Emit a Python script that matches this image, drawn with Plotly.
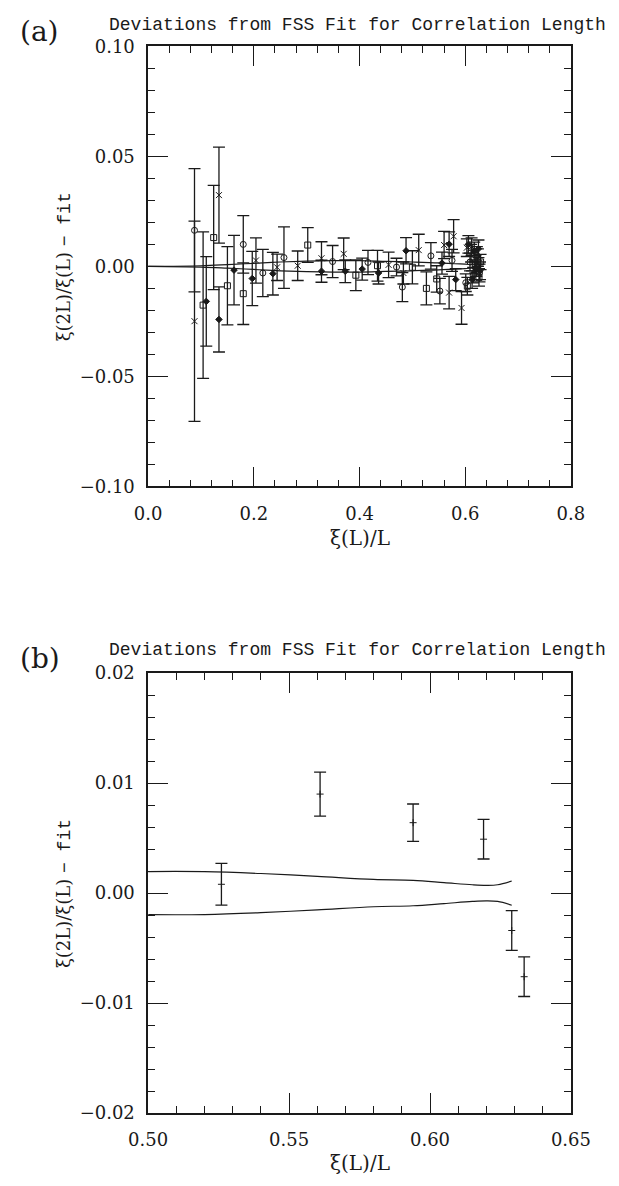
import plotly.graph_objects as go

# ---------------- Panel (a) data ----------------
cross_x   = [0.0877, 0.134, 0.204, 0.244, 0.283, 0.328, 0.370, 0.455, 0.483, 0.512, 0.560, 0.5695, 0.578, 0.593, 0.603, 0.612, 0.618, 0.624]
cross_y   = [-0.0249, 0.0324, 0.0027, -0.0004, 0.0003, 0.0037, 0.0057, 0.0007, -0.0030, 0.0074, 0.0097, -0.0119, 0.0137, -0.0189, 0.0085, 0.0090, -0.0020, 0.0040]
cross_err = [0.0455, 0.0218, 0.0103, 0.0060, 0.0067, 0.0075, 0.0072, 0.0058, 0.0050, 0.0072, 0.0062, 0.0074, 0.0076, 0.0074, 0.0040, 0.0040, 0.0040, 0.0040]

circ_x   = [0.0877, 0.180, 0.217, 0.257, 0.349, 0.416, 0.470, 0.481, 0.535, 0.552, 0.575, 0.601, 0.609, 0.615, 0.622, 0.627]
circ_y   = [0.0164, 0.0100, -0.0030, 0.0040, 0.0022, 0.0018, -0.0003, -0.0094, 0.0048, -0.0112, 0.0027, -0.0074, 0.0020, -0.0040, 0.0050, -0.0030]
circ_err = [0.0280, 0.0131, 0.0107, 0.0140, 0.0073, 0.0055, 0.0040, 0.0066, 0.0060, 0.0058, 0.0050, 0.0040, 0.0040, 0.0035, 0.0040, 0.0040]

sq_x   = [0.104, 0.124, 0.150, 0.180, 0.302, 0.393, 0.434, 0.500, 0.5265, 0.546, 0.604, 0.611, 0.619, 0.626, 0.629]
sq_y   = [-0.0176, 0.0131, -0.0088, -0.0124, 0.0097, -0.0040, 0.0003, -0.0004, -0.0100, -0.0057, -0.0090, 0.0060, 0.0010, -0.0050, 0.0020]
sq_err = [0.0333, 0.0237, 0.0178, 0.0140, 0.0079, 0.0070, 0.0070, 0.0075, 0.0075, 0.0060, 0.0040, 0.0040, 0.0040, 0.0040, 0.0035]

dia_x   = [0.110, 0.134, 0.1625, 0.197, 0.236, 0.328, 0.373, 0.405, 0.436, 0.488, 0.556, 0.5695, 0.582, 0.606, 0.613, 0.617, 0.621, 0.625, 0.628]
dia_y   = [-0.0159, -0.0241, -0.0017, -0.0055, -0.0033, -0.0022, -0.0022, -0.0012, -0.0030, 0.0071, 0.0015, 0.0101, -0.0060, 0.0100, -0.0060, 0.0070, -0.0010, 0.0080, -0.0020]
dia_err = [0.0203, 0.0148, 0.0158, 0.0123, 0.0097, 0.0050, 0.0052, 0.0050, 0.0050, 0.0060, 0.0050, 0.0056, 0.0050, 0.0040, 0.0040, 0.0040, 0.0035, 0.0040, 0.0040]

band_a_x  = [0.0, 0.10, 0.15, 0.20, 0.25, 0.30, 0.35, 0.40, 0.45, 0.50, 0.55, 0.58, 0.60, 0.62, 0.629]
band_a_up = [0.0, 0.0003, 0.0008, 0.0014, 0.0020, 0.0024, 0.0026, 0.0026, 0.0023, 0.0020, 0.0016, 0.0012, 0.0010, 0.0007, 0.0011]
band_a_lo = [-v for v in band_a_up]

# ---------------- Panel (b) data ----------------
b_x   = [0.526, 0.561, 0.594, 0.619, 0.629, 0.6334]
b_y   = [0.0008, 0.0090, 0.0064, 0.0049, -0.0034, -0.0076]
b_err = [0.0019, 0.0020, 0.0017, 0.0018, 0.0018, 0.0018]

band_b_x  = [0.50, 0.52, 0.54, 0.56, 0.58, 0.594, 0.605, 0.615, 0.620, 0.624, 0.629]
band_b_up = [0.00196, 0.00195, 0.00178, 0.00152, 0.00124, 0.00115, 0.00095, 0.00076, 0.00071, 0.00076, 0.00110]
band_b_lo = [-v for v in band_b_up]

TITLE = "Deviations from FSS Fit for Correlation Length"
INK = "#1a1a1a"

fig = go.Figure()

def err_trace(x, y, e, symbol, size, xa, ya, fill=False):
    return go.Scatter(
        x=x, y=y, mode="markers", xaxis=xa, yaxis=ya, showlegend=False,
        marker=dict(symbol=symbol, size=size, color=INK,
                    line=dict(color=INK, width=1)),
        error_y=dict(type="data", array=e, visible=True, width=6,
                     thickness=1.3, color=INK),
    )

# band lines panel a
fig.add_trace(go.Scatter(x=band_a_x, y=band_a_up, mode="lines", xaxis="x", yaxis="y",
                         line=dict(color=INK, width=1.2, shape="spline"), showlegend=False))
fig.add_trace(go.Scatter(x=band_a_x, y=band_a_lo, mode="lines", xaxis="x", yaxis="y",
                         line=dict(color=INK, width=1.2, shape="spline"), showlegend=False))
fig.add_trace(err_trace(cross_x, cross_y, cross_err, "x-thin", 6, "x", "y"))
fig.add_trace(err_trace(circ_x, circ_y, circ_err, "circle-open", 6, "x", "y"))
fig.add_trace(err_trace(sq_x, sq_y, sq_err, "square-open", 6, "x", "y"))
fig.add_trace(err_trace(dia_x, dia_y, dia_err, "diamond", 5, "x", "y"))

# panel b
fig.add_trace(go.Scatter(x=band_b_x, y=band_b_up, mode="lines", xaxis="x2", yaxis="y2",
                         line=dict(color=INK, width=1.2, shape="spline"), showlegend=False))
fig.add_trace(go.Scatter(x=band_b_x, y=band_b_lo, mode="lines", xaxis="x2", yaxis="y2",
                         line=dict(color=INK, width=1.2, shape="spline"), showlegend=False))
fig.add_trace(err_trace(b_x, b_y, b_err, "cross-thin", 5, "x2", "y2"))

W, H = 619, 1186
xdom = [137 / W, 589 / W]
ya_dom = [1 - 484 / H, 1 - 36 / H]
yb_dom = [1 - 1122 / H, 1 - 674 / H]

tickfont = dict(family="DejaVu Serif", size=18, color=INK)

def axis(rng, dtick, mdtick, fmt, dom, anchor, standoff):
    return dict(
        range=rng, dtick=dtick, tick0=rng[0], tickformat=fmt, domain=dom, anchor=anchor,
        showline=True, linecolor=INK, linewidth=1.5, mirror="allticks",
        ticks="inside", ticklen=20, tickwidth=1.2, tickcolor=INK,
        minor=dict(dtick=mdtick, tick0=rng[0], ticks="inside", ticklen=7, tickwidth=1.1, tickcolor=INK),
        showgrid=False, zeroline=False, tickfont=tickfont, ticklabelstandoff=standoff,
    )

fig.update_layout(
    width=W, height=H, autosize=False,
    margin=dict(l=0, r=0, t=0, b=0),
    paper_bgcolor="white", plot_bgcolor="white",
    xaxis=axis([0.0, 0.8], 0.2, 0.04, ".1f", xdom, "y", 10),
    yaxis=axis([-0.10, 0.10], 0.05, 0.01, ".2f", ya_dom, "x", 8),
    xaxis2=axis([0.50, 0.65], 0.05, 0.01, ".2f", xdom, "y2", 10),
    yaxis2=axis([-0.02, 0.02], 0.01, 0.002, ".2f", yb_dom, "x2", 8),
)

ytitle = 'ξ(2L)/ξ(L) <span style="font-family:Liberation Mono">− fit</span>'
ann = []
for (ycen_title, ycen_lab, lab, ycen_axis, ycen_xt) in [
    (14, 21, "(a)", 260, 537),
    (651, 659, "(b)", 898, 1173),
]:
    ann.append(dict(x=361 / W, y=1 - ycen_title / H, xref="paper", yref="paper",
                    text=TITLE, showarrow=False, xanchor="center", yanchor="middle",
                    font=dict(family="Liberation Mono", size=18, color=INK)))
    ann.append(dict(x=21 / W, y=1 - ycen_lab / H, xref="paper", yref="paper",
                    text=lab, showarrow=False, xanchor="center", yanchor="middle",
                    font=dict(family="DejaVu Serif", size=28, color=INK)))
    ann.append(dict(x=47 / W, y=1 - ycen_axis / H, xref="paper", yref="paper",
                    text=ytitle, showarrow=False, textangle=-90, xanchor="center", yanchor="middle",
                    font=dict(family="DejaVu Serif", size=18, color=INK)))
    ann.append(dict(x=363 / W, y=1 - ycen_xt / H, xref="paper", yref="paper",
                    text="ξ(L)/L", showarrow=False, xanchor="center", yanchor="middle",
                    font=dict(family="DejaVu Serif", size=20, color=INK)))
fig.update_layout(annotations=ann)

fig.write_html("out.html")
